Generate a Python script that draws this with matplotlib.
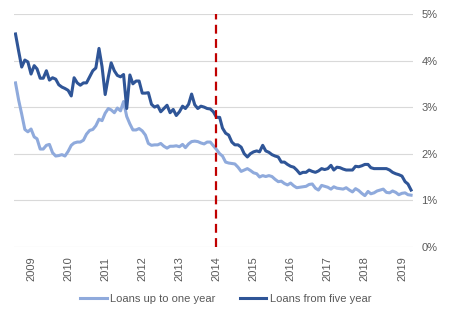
import matplotlib
matplotlib.use('Agg')
import matplotlib.pyplot as plt
import matplotlib.dates as mdates
from matplotlib.ticker import FuncFormatter
import pandas as pd

# monthly series, Aug 2008 - Apr 2019 (percent)
start_month = '2008-08-01'

loans_up_to_one_year = [
    3.52, 3.15, 2.85, 2.52, 2.47,
    2.53, 2.36, 2.32, 2.10, 2.10, 2.18, 2.20, 2.02, 1.95, 1.96, 1.98, 1.95,
    2.05, 2.18, 2.23, 2.25, 2.25, 2.29, 2.42, 2.50, 2.52, 2.60, 2.74, 2.71,
    2.87, 2.97, 2.94, 2.88, 2.98, 2.92, 3.12, 2.80, 2.64, 2.51, 2.51, 2.54,
    2.49, 2.40, 2.22, 2.18, 2.19, 2.19, 2.22, 2.16, 2.12, 2.16, 2.16, 2.17,
    2.15, 2.20, 2.13, 2.21, 2.26, 2.27, 2.26, 2.23, 2.21, 2.25, 2.25, 2.17,
    2.09, 2.00, 1.95, 1.82, 1.80, 1.79, 1.78, 1.71, 1.62, 1.65, 1.68, 1.64,
    1.59, 1.57, 1.50, 1.53, 1.51, 1.53, 1.51, 1.45, 1.40, 1.41, 1.36, 1.33,
    1.37, 1.31, 1.27, 1.28, 1.29, 1.30, 1.34, 1.35, 1.26, 1.22, 1.32, 1.30,
    1.28, 1.24, 1.29, 1.26, 1.25, 1.24, 1.27, 1.22, 1.18, 1.25, 1.21, 1.15,
    1.10, 1.19, 1.14, 1.16, 1.20, 1.22, 1.24, 1.17, 1.16, 1.20, 1.17, 1.12,
    1.15, 1.16, 1.12, 1.11,
]

loans_from_five_year = [
    4.57, 4.20, 3.86, 4.01, 3.97,
    3.71, 3.89, 3.82, 3.62, 3.62, 3.78, 3.58, 3.63, 3.60, 3.48, 3.43, 3.40,
    3.36, 3.24, 3.63, 3.52, 3.47, 3.52, 3.52, 3.65, 3.78, 3.84, 4.26, 3.87,
    3.27, 3.65, 3.95, 3.78, 3.68, 3.65, 3.70, 2.97, 3.69, 3.50, 3.56, 3.56,
    3.30, 3.30, 3.31, 3.06, 3.00, 3.03, 2.90, 2.97, 3.04, 2.88, 2.95, 2.82,
    2.90, 3.02, 2.97, 3.06, 3.28, 3.05, 2.97, 3.02, 3.00, 2.97, 2.96, 2.90,
    2.78, 2.78, 2.55, 2.44, 2.40, 2.25, 2.19, 2.19, 2.14, 2.00, 1.93, 2.00,
    2.04, 2.06, 2.04, 2.18, 2.06, 2.03, 1.98, 1.95, 1.93, 1.82, 1.82, 1.77,
    1.73, 1.71, 1.65, 1.57, 1.60, 1.60, 1.65, 1.62, 1.60, 1.63, 1.68, 1.66,
    1.68, 1.75, 1.65, 1.71, 1.70, 1.67, 1.65, 1.65, 1.65, 1.73, 1.72, 1.74,
    1.77, 1.77, 1.70, 1.68, 1.68, 1.68, 1.68, 1.68, 1.65, 1.60, 1.57, 1.55,
    1.52, 1.40, 1.35, 1.22,
]

years = list(range(2009, 2020))
marker_date = '2014-01-01'

dates = pd.date_range(start_month, periods=len(loans_up_to_one_year), freq='MS')

plt.rcParams['font.family'] = ['Liberation Sans', 'DejaVu Sans']

fig = plt.figure(figsize=(4.51, 3.24), dpi=100)
ax = fig.add_axes([0.031, 0.238, 0.885, 0.719])

ax.plot(dates, loans_up_to_one_year, color='#8FAADC', lw=2.2, label='Loans up to one year')
ax.plot(dates, loans_from_five_year, color='#2F5597', lw=2.2, label='Loans from five year')
ax.axvline(pd.Timestamp(marker_date), color='#C00000', lw=1.6, ls=(0, (4, 2.4)), zorder=3)

ax.set_ylim(0, 5)
ax.set_yticks(range(0, 6))
ax.yaxis.set_major_formatter(FuncFormatter(lambda v, p: f'{int(v)}%'))
ax.yaxis.tick_right()
ax.grid(axis='y', color='#D9D9D9', lw=0.8)
ax.set_axisbelow(True)

ax.set_xlim(dates[0] - pd.Timedelta(days=15), dates[-1] + pd.Timedelta(days=20))
ax.set_xticks([pd.Timestamp(f'{y}-01-01') for y in years])
ax.xaxis.set_major_formatter(mdates.DateFormatter('%Y'))
plt.setp(ax.get_xticklabels(), rotation=90)

ax.tick_params(length=0, labelsize=8, colors='#595959')
ax.tick_params(axis='y', pad=6)
ax.tick_params(axis='x', pad=7)
for s in ax.spines.values():
    s.set_visible(False)

fig.legend(loc='center', bbox_to_anchor=(0.5, 0.077), ncol=2, frameon=False,
           fontsize=8, handlelength=2.4, columnspacing=2.2, handletextpad=0.3,
           labelcolor='#595959')

fig.savefig('out.png', dpi=100)
